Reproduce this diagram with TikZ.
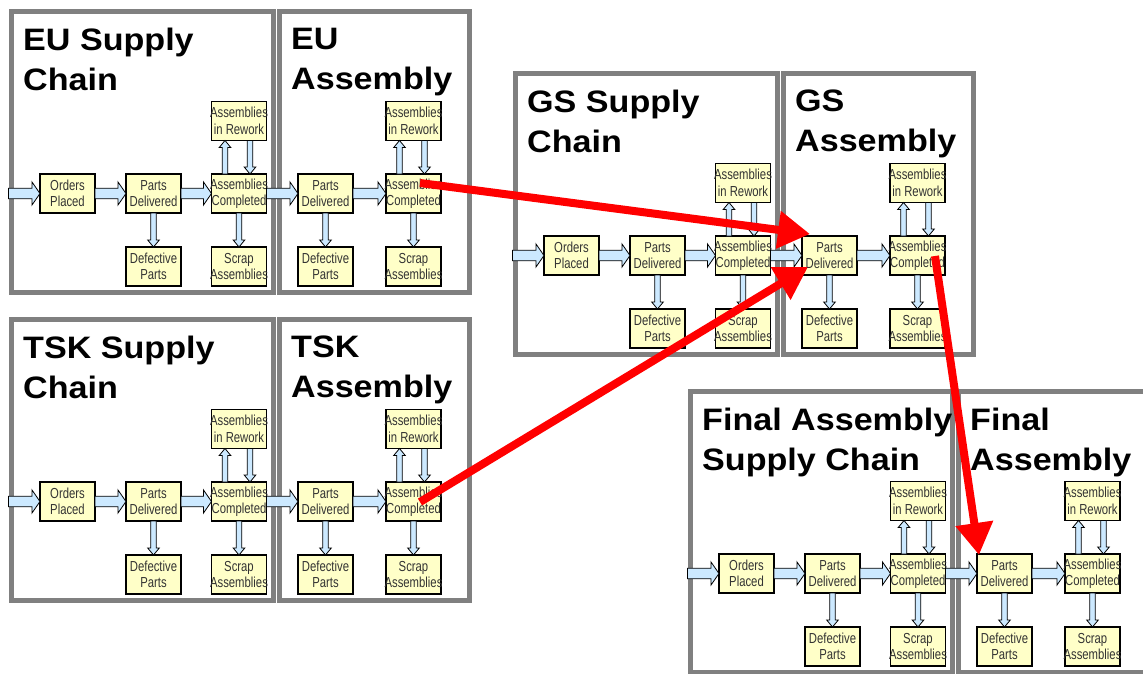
\documentclass[tikz,border=0pt]{standalone}
\usepackage{fontspec}
\setmainfont{Liberation Sans}
\newfontfamily\titlefont[FakeStretch=1.1]{Liberation Sans}
\newfontfamily\boxfont[FakeStretch=0.78]{Liberation Sans}
\usetikzlibrary{calc,arrows.meta}

\definecolor{panelgray}{HTML}{808080}
\definecolor{unitfill}{HTML}{FFFFC8}
\definecolor{flowblue}{HTML}{CCE9FF}
\definecolor{linkred}{HTML}{FF0000}

\tikzset{
  panel/.style={draw=panelgray, line width=5pt},
  title/.style={anchor=north west, inner sep=0pt, align=left,
                font=\titlefont\bfseries\fontsize{31}{40}\selectfont},
  unit/.style={draw=black, line width=1.3pt, fill=unitfill,
               minimum width=55pt, minimum height=39pt,
               inner xsep=-4pt, inner ysep=0pt, outer sep=0pt,
               align=center, text=black!80,
               font=\boxfont\fontsize{14.5}{16.5}\selectfont},
  flow/.style n args={3}{draw=black, line width=0.8pt, fill=flowblue,
    to path={
      ($(\tikztostart)!#1!90:(\tikztotarget)$)
      -- ($(\tikztotarget)!#3!(\tikztostart)!#1!90:(\tikztotarget)$)
      -- ($(\tikztotarget)!#3!(\tikztostart)!#2!90:(\tikztotarget)$)
      -- (\tikztotarget)
      -- ($(\tikztotarget)!#3!(\tikztostart)!#2!-90:(\tikztotarget)$)
      -- ($(\tikztotarget)!#3!(\tikztostart)!#1!-90:(\tikztotarget)$)
      -- ($(\tikztostart)!#1!-90:(\tikztotarget)$) -- cycle}},
  hflow/.style={flow={5.3pt}{11.5pt}{8pt}},
  vflow/.style={flow={2.8pt}{5.8pt}{7pt}},
  link/.style={draw=linkred, line width=8pt, -{Triangle[length=32pt,width=36pt]}}
}

% one supply chain panel and one assembly panel
\newcommand\flowgroup[4]{%
  \begin{scope}[shift={#2}]
    \draw[panel] (11.5,11.5) rectangle (273.5,292.5);
    \draw[panel] (279,11.5) rectangle (469,292.5);
    \node[title] (#1stitle) at (23,27.5) {#3};
    \node[title] (#1atitle) at (291,27.5) {#4};

    % supply chain
    \coordinate (#1in) at (8.5,193.5);
    \node[unit] (#1op) at (67.5,193.5) {Orders\\Placed};
    \node[unit] (#1spd) at (153.5,193.5) {Parts\\Delivered};
    \node[unit] (#1sac) at (239,193.5) {Assemblies\\Completed};
    \node[unit] (#1srw) at (239,121) {Assemblies\\in Rework};
    \node[unit] (#1sdp) at (153.5,266.5) {Defective\\Parts};
    \node[unit] (#1ssc) at (239,266.5) {Scrap\\Assemblies};

    % assembly
    \node[unit] (#1apd) at (325.5,193.5) {Parts\\Delivered};
    \node[unit] (#1aac) at (413.5,193.5) {Assemblies\\Completed};
    \node[unit] (#1arw) at (413.5,121) {Assemblies\\in Rework};
    \node[unit] (#1adp) at (325.5,266.5) {Defective\\Parts};
    \node[unit] (#1asc) at (413.5,266.5) {Scrap\\Assemblies};

    \path[hflow] (#1in) to (#1op.west);
    \path[hflow] (#1op.east) to (#1spd.west);
    \path[hflow] (#1spd.east) to (#1sac.west);
    \path[hflow] (#1sac.east) to (#1apd.west);
    \path[hflow] (#1apd.east) to (#1aac.west);

    \path[vflow] (#1spd.south) to (#1sdp.north);
    \path[vflow] (#1sac.south) to (#1ssc.north);
    \path[vflow] ([xshift=-14pt]#1sac.north) to ([xshift=-14pt]#1srw.south);
    \path[vflow] ([xshift=11pt]#1srw.south) to ([xshift=11pt]#1sac.north);

    \path[vflow] (#1apd.south) to (#1adp.north);
    \path[vflow] (#1aac.south) to (#1asc.north);
    \path[vflow] ([xshift=-14pt]#1aac.north) to ([xshift=-14pt]#1arw.south);
    \path[vflow] ([xshift=11pt]#1arw.south) to ([xshift=11pt]#1aac.north);
  \end{scope}}

\begin{document}
\begin{tikzpicture}[x=1pt, y=-1pt]
  \useasboundingbox (0,0) rectangle (1143,673);
  \clip (0,0) rectangle (1143,673);

  \flowgroup{eu}{(0,0)}{EU Supply\\Chain}{EU\\Assembly}
  \flowgroup{tsk}{(0,308)}{TSK Supply\\Chain}{TSK\\Assembly}
  \flowgroup{gs}{(504,62)}{GS Supply\\Chain}{GS\\Assembly}
  \flowgroup{fin}{(679,380)}{Final Assembly\\Supply Chain}{Final\\Assembly}

  % links between the groups
  \draw[link] ($(euaac)+(6.5,-10.5)$) -- ($(gsapd.north west)+(8,-2)$);
  \draw[link] ($(tskaac)+(6.5,0.5)$) -- ($(gsapd.south west)+(6,-8)$);
  \draw[link] ($(gsaac)+(17.5,0.5)$) -- ($(finapd.north west)+(2,1)$);
\end{tikzpicture}
\end{document}
